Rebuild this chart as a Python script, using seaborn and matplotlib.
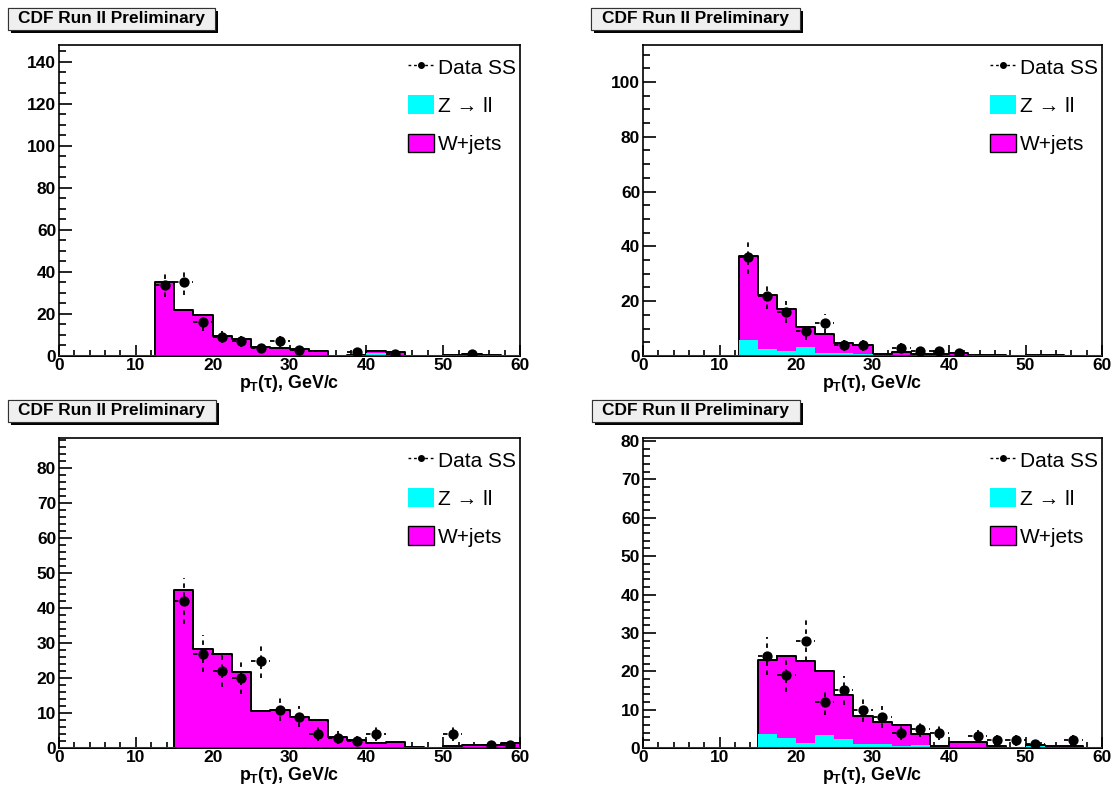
import numpy as np
import pandas as pd

import matplotlib
matplotlib.use("Agg")
import matplotlib.pyplot as plt
import matplotlib.patheffects as pe
from matplotlib.lines import Line2D
from matplotlib.patches import Patch, Rectangle
from matplotlib.ticker import MultipleLocator
import seaborn as sns

# =========================================
# DATA (24 bins of 2.5 GeV/c from 0 to 60)
# =========================================

bin_edges = [i * 2.5 for i in range(25)]

# panel 1 (top left)
wjets_1 = [0, 0, 0, 0, 0, 34.8, 21.8, 19.2, 9.3, 8.2, 4.4, 3.9,
           3.1, 2.2, 0.1, 0.2, 0.8, 1.4, 0, 0, 0.3, 0.5, 0.2, 0]
zll_1 = [0, 0, 0, 0, 0, 0.2, 0.2, 0.2, 0.1, 0.1, 0.1, 0.1,
         0.1, 0, 0.1, 0.3, 1.4, 0.3, 0, 0, 0.3, 0.3, 0.1, 0]
data_1 = [0, 0, 0, 0, 0, 34, 35, 16, 9, 7, 4, 7,
          3, 0, 0, 2, 0, 1, 0, 0, 0, 1, 0, 0]

# panel 2 (top right)
wjets_2 = [0, 0, 0, 0, 0, 30.5, 19.7, 15.3, 7.1, 7.0, 3.6, 3.3,
           0.3, 1.2, 0.5, 0.5, 0.7, 0.1, 0.1, 0, 0.1, 0.1, 0, 0]
zll_2 = [0, 0, 0, 0, 0, 5.9, 2.4, 1.9, 3.4, 1.2, 1.0, 0.6,
         0.3, 0.4, 0.3, 0.3, 0.3, 0.2, 0.2, 0, 0.2, 0.2, 0, 0]
data_2 = [0, 0, 0, 0, 0, 36, 22, 16, 9, 12, 4, 4,
          0, 3, 2, 2, 1, 0, 0, 0, 0, 0, 0, 0]

# panel 3 (bottom left)
wjets_3 = [0, 0, 0, 0, 0, 0, 45.0, 28.3, 26.9, 21.6, 10.4, 10.7,
           8.8, 7.9, 3.1, 2.3, 1.2, 1.6, 0.3, 0, 0.7, 1.0, 1.0, 1.3]
zll_3 = [0, 0, 0, 0, 0, 0, 0.1, 0.1, 0.1, 0.1, 0.1, 0.1,
         0.1, 0.1, 0.1, 0.1, 0.1, 0.1, 0, 0, 0, 0, 0, 0]
data_3 = [0, 0, 0, 0, 0, 0, 42, 27, 22, 20, 25, 11,
          9, 4, 3, 2, 4, 0, 0, 0, 4, 0, 1, 1]

# panel 4 (bottom right)
wjets_4 = [0, 0, 0, 0, 0, 0, 19.2, 21.2, 21.4, 16.6, 11.5, 7.4,
           5.7, 5.6, 2.9, 0.3, 1.2, 1.2, 0.3, 0, 0.3, 0.3, 0.3, 0]
zll_4 = [0, 0, 0, 0, 0, 0, 3.7, 2.7, 1.4, 3.4, 2.3, 1.0,
         1.0, 0.5, 0.7, 0.3, 0.3, 0.3, 0.1, 0, 0.4, 0.1, 0.1, 0]
data_4 = [0, 0, 0, 0, 0, 0, 24, 19, 28, 12, 15, 10,
          8, 4, 5, 4, 0, 3, 2, 2, 1, 0, 2, 0]

y_max = [148, 113.5, 88.6, 80.8]
y_major = [20, 20, 10, 10]
y_minor = [5, 5, 2, 2]

title_text = "CDF Run II Preliminary"
x_label = r"$p_T(\tau)$, GeV/c"
legend_labels = ["Data SS", "Z \u2192 ll", "W+jets"]

# =========================================
# STYLE
# =========================================

sns.set_style("ticks")
plt.rcParams["font.family"] = ["Liberation Sans", "DejaVu Sans"]
plt.rcParams["mathtext.fontset"] = "custom"
plt.rcParams["mathtext.rm"] = "Liberation Sans:bold"
plt.rcParams["mathtext.it"] = "Liberation Sans:bold"
plt.rcParams["mathtext.bf"] = "Liberation Sans:bold"
plt.rcParams["text.color"] = "black"
plt.rcParams["axes.labelcolor"] = "black"
plt.rcParams["xtick.color"] = "black"
plt.rcParams["ytick.color"] = "black"
plt.rcParams["xtick.labelcolor"] = "black"
plt.rcParams["ytick.labelcolor"] = "black"

MAGENTA = "#ff00ff"
CYAN = "#00ffff"
BASE = "#0d4a4a"

W, H = 1117, 790
fig = plt.figure(figsize=(W / 100, H / 100), dpi=100)


def px_rect(left, right, top, bottom):
    return [left / W, 1 - bottom / H, (right - left) / W, (bottom - top) / H]


panel_rects = [
    px_rect(59, 520, 45, 356),
    px_rect(643, 1102, 45, 356),
    px_rect(59, 520, 438, 748),
    px_rect(643, 1102, 438, 748),
]

# title boxes in pixels: left, right, top, bottom
title_boxes = [
    (8, 215, 8, 30),
    (591, 800, 8, 30),
    (8, 216, 400, 422),
    (592, 800, 400, 422),
]

panels = [
    (wjets_1, zll_1, data_1),
    (wjets_2, zll_2, data_2),
    (wjets_3, zll_3, data_3),
    (wjets_4, zll_4, data_4),
]

centers = np.array(bin_edges[:-1]) + 1.25

# =========================================
# DRAW PANELS
# =========================================

for i, (wj, zl, dd) in enumerate(panels):

    ax = fig.add_axes(panel_rects[i])

    hist_df = pd.DataFrame({
        "x": centers,
        "total": np.array(wj) + np.array(zl),
        "zll": np.array(zl, dtype=float),
    })
    dd = np.array(dd, dtype=float)

    # stacked histogram: total (W+jets on top) then Z -> ll underneath
    sns.histplot(
        data=hist_df,
        x="x",
        weights="total",
        bins=bin_edges,
        element="step",
        fill=True,
        color=MAGENTA,
        alpha=1,
        edgecolor="black",
        linewidth=1.4,
        ax=ax,
        zorder=2
    )

    sns.histplot(
        data=hist_df,
        x="x",
        weights="zll",
        bins=bin_edges,
        element="step",
        fill=True,
        color=CYAN,
        alpha=1,
        linewidth=0,
        ax=ax,
        zorder=3
    )

    ax.axhline(0, color=BASE, lw=2.2, zorder=4)

    # data points with dashed error bars
    mask = dd > 0
    df = pd.DataFrame({"x": centers[mask], "y": dd[mask]})

    eb = ax.errorbar(
        df["x"],
        df["y"],
        xerr=1.25,
        yerr=np.sqrt(df["y"]),
        fmt="none",
        ecolor="black",
        elinewidth=1.3,
        capsize=0,
        zorder=5
    )
    for lc in eb[2]:
        lc.set_linestyle((0, (2.5, 2.5)))

    sns.scatterplot(
        data=df,
        x="x",
        y="y",
        color="black",
        s=55,
        edgecolor="black",
        linewidth=0,
        ax=ax,
        zorder=6
    )

    # axes
    ax.set_xlim(0, 60)
    ax.set_ylim(0, y_max[i])
    ax.set_ylabel("")
    ax.set_xlabel(x_label, fontsize=12.8, fontweight="bold", labelpad=0,
                  color="black")

    ax.xaxis.set_major_locator(MultipleLocator(10))
    ax.xaxis.set_minor_locator(MultipleLocator(2))
    ax.yaxis.set_major_locator(MultipleLocator(y_major[i]))
    ax.yaxis.set_minor_locator(MultipleLocator(y_minor[i]))

    ax.tick_params(axis="both", which="both", direction="in",
                   top=False, right=False, color="black",
                   labelcolor="black", width=1.2)
    ax.tick_params(axis="y", which="major", length=9, pad=2, labelsize=12.5)
    ax.tick_params(axis="y", which="minor", length=5)
    ax.tick_params(axis="x", which="major", length=8, pad=1.5, labelsize=12.5)
    ax.tick_params(axis="x", which="minor", length=4)

    for lab in ax.get_xticklabels() + ax.get_yticklabels():
        lab.set_fontweight("bold")

    for side in ["top", "right", "left", "bottom"]:
        ax.spines[side].set_visible(True)
        ax.spines[side].set_color("black")
        ax.spines[side].set_linewidth(1.2)

    # legend
    handles = [
        Line2D([], [], color="black", ls=(0, (2, 2)), lw=1,
               marker="o", markersize=4),
        Patch(facecolor=CYAN, edgecolor="none"),
        Patch(facecolor=MAGENTA, edgecolor="black", linewidth=1),
    ]

    leg = ax.legend(
        handles,
        legend_labels,
        loc="upper right",
        bbox_to_anchor=(1.0, 1.0 - 8 / 311),
        frameon=False,
        prop={"size": 15, "weight": "normal"},
        handlelength=1.25,
        handleheight=1.0,
        handletextpad=0.2,
        labelspacing=0.85,
        borderaxespad=0.0,
        borderpad=0.2
    )
    for txt in leg.get_texts():
        txt.set_color("black")

    # title box with shadow
    bl, br, bt, bb = title_boxes[i]
    box = Rectangle(
        (bl / W, 1 - bb / H),
        (br - bl) / W,
        (bb - bt) / H,
        transform=fig.transFigure,
        facecolor="#efefef",
        edgecolor="#333333",
        linewidth=0.8,
        zorder=10
    )
    box.set_path_effects([
        pe.withSimplePatchShadow(offset=(2.2, -2.2), shadow_rgbFace="black",
                                 alpha=1.0),
        pe.Normal()
    ])
    fig.patches.append(box)

    fig.text(
        (bl + br) / 2 / W,
        1 - (bt + bb) / 2 / H,
        title_text,
        ha="center",
        va="center",
        fontsize=12.4,
        fontweight="bold",
        color="black",
        zorder=11
    )

# =========================================
# SAVE
# =========================================

fig.savefig("out.png", dpi=100)
plt.close(fig)
